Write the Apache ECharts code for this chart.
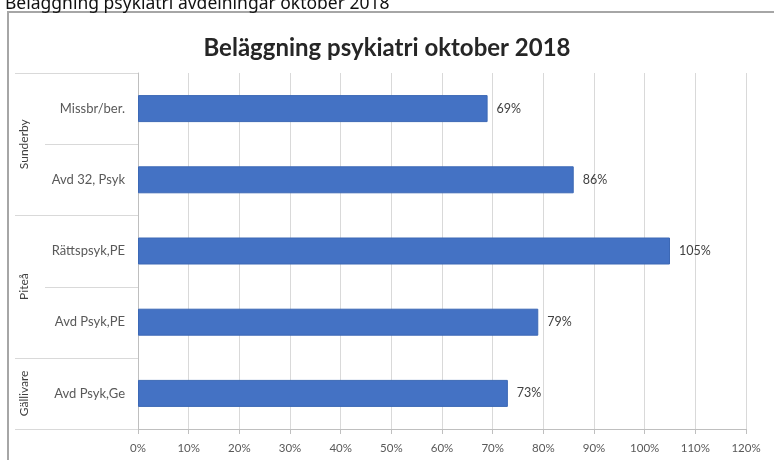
<!DOCTYPE html>
<html>
<head>
<meta charset="utf-8">
<script src="https://cdn.jsdelivr.net/npm/echarts@6/dist/echarts.min.js"></script>
<style>
html,body{margin:0;padding:0;background:#fff;}
#c{width:774px;height:460px;}
</style>
</head>
<body>
<div id="c"></div>
<script>
var categories = ['Missbr/ber.', 'Avd 32, Psyk', 'Rättspsyk,PE', 'Avd Psyk,PE', 'Avd Psyk,Ge'];
var values = [69, 86, 105, 79, 73];
var groups = [
  { name: 'Sunderby', from: 0, to: 1 },
  { name: 'Piteå', from: 2, to: 3 },
  { name: 'Gällivare', from: 4, to: 4 }
];
var xMin = 0, xMax = 120, xStep = 10;

var chart = echarts.init(document.getElementById('c'), null, { renderer: 'canvas' });
var labelColor = '#595959';
var option = {
  backgroundColor: '#ffffff',
  animation: false,
  title: [
    {
      text: 'Beläggning psykiatri avdelningar oktober 2018',
      left: 0, top: -10,
      textStyle: { fontFamily: 'Noto Sans', fontWeight: 'normal', fontSize: 17.5, color: '#111' }
    },
    {
      text: 'Beläggning psykiatri oktober 2018',
      left: 'center', top: 31,
      textStyle: { fontFamily: 'Lato', fontWeight: 'bold', fontSize: 24, color: '#262626' }
    }
  ],
  grid: { left: 138, right: 28, top: 73, bottom: 31, containLabel: false },
  xAxis: {
    type: 'value', min: xMin, max: xMax, interval: xStep,
    axisLine: { show: true, lineStyle: { color: '#bfbfbf', width: 1 } },
    axisTick: { show: true, length: 5, lineStyle: { color: '#bfbfbf' } },
    splitLine: { show: true, lineStyle: { color: '#d9d9d9', width: 1 } },
    axisLabel: { formatter: '{value}%', color: labelColor, fontFamily: 'Lato', fontSize: 11.5, margin: 13 }
  },
  yAxis: {
    type: 'category', data: categories, inverse: true,
    axisLine: { show: true, lineStyle: { color: '#bfbfbf', width: 1 } },
    axisTick: { show: false },
    axisLabel: { color: labelColor, fontFamily: 'Lato', fontSize: 13, margin: 13 }
  },
  series: [{
    type: 'bar', data: values, barWidth: 27,
    itemStyle: { color: '#4472c4', borderColor: '#3c68b5', borderWidth: 1 },
    label: { show: true, position: 'right', distance: 9, formatter: '{c}%', color: '#404040', fontFamily: 'Lato', fontSize: 12.5 }
  }]
};
chart.setOption(option);

// build category-group frame lines and labels from the axis scale
var n = categories.length;
var yc0 = chart.convertToPixel({ yAxisIndex: 0 }, categories[0]);
var yc1 = chart.convertToPixel({ yAxisIndex: 0 }, categories[1]);
var band = yc1 - yc0;
function boundary(i) { return yc0 + (i - 0.5) * band; }
var axisX = chart.convertToPixel({ xAxisIndex: 0 }, xMin);
var graphics = [
  { type: 'rect', shape: { x: 8, y: 12, width: 900, height: 600 }, style: { fill: null, stroke: '#a6a6a6', lineWidth: 2 }, z: 0, silent: true }
];
var groupStarts = {};
groups.forEach(function (g) { groupStarts[g.from] = true; groupStarts[g.to + 1] = true; });
for (var i = 0; i <= n; i++) {
  var y = Math.round(boundary(i)) + 0.5;
  var x0 = groupStarts[i] ? 15 : 45;
  graphics.push({ type: 'line', shape: { x1: x0, y1: y, x2: axisX, y2: y }, style: { stroke: '#d9d9d9', lineWidth: 1 }, z: 5, silent: true });
}
groups.forEach(function (g) {
  var yMid = (boundary(g.from) + boundary(g.to + 1)) / 2;
  graphics.push({
    type: 'text', x: 24, y: yMid, rotation: Math.PI / 2,
    style: { text: g.name, fill: '#404040', font: '12px Lato', align: 'center', verticalAlign: 'middle' },
    z: 6, silent: true
  });
});
chart.setOption({ graphic: graphics });
</script>
</body>
</html>
